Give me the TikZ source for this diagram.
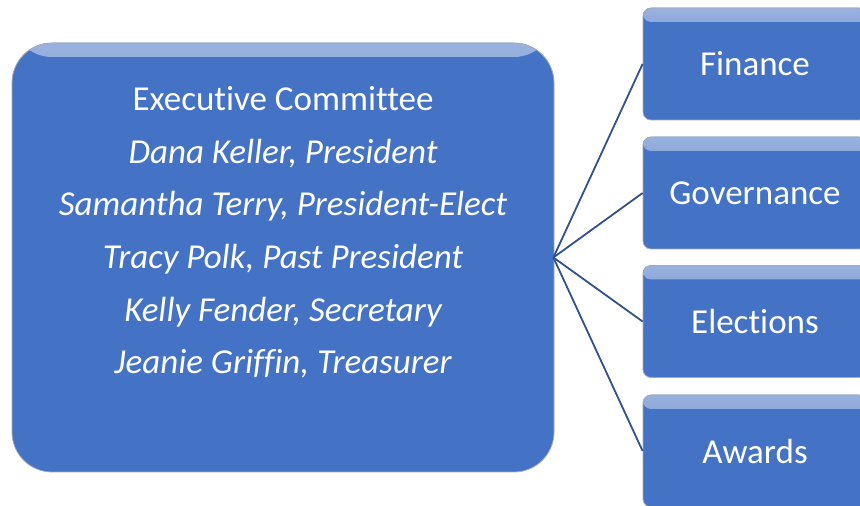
\documentclass[tikz,border=0pt]{standalone}
\usepackage{fontspec}
\setmainfont[Ligatures=NoCommon]{Carlito}
\definecolor{boxblue}{HTML}{4472C4}
\definecolor{linkblue}{HTML}{2F528F}
\definecolor{edgegray}{HTML}{A5A9B8}
\tikzset{
  gloss/.style={
    path picture={
      \fill[top color=white!45!boxblue, bottom color=boxblue]
        (path picture bounding box.north west) rectangle
        ([yshift=-14pt]path picture bounding box.north east);
    }},
  bigbox/.style={draw=edgegray, line width=0.8pt, fill=boxblue, gloss,
    rounded corners=40pt, minimum width=542pt, minimum height=429pt, inner sep=0pt},
  combox/.style={draw=edgegray, line width=0.8pt, fill=boxblue, gloss,
    rounded corners=8pt, minimum width=224pt, minimum height=112pt, inner sep=0pt,
    text=white, font=\fontsize{35}{40}\selectfont},
  bodytext/.style={text=white, align=center, font=\fontsize{35}{52.6}\selectfont},
  link/.style={draw=linkblue, line width=1.8pt}
}
\begin{document}
\begin{tikzpicture}[x=1pt,y=1pt]
\useasboundingbox (0,0) rectangle (860,506);
\clip (0,0) rectangle (860,506);
\node[bigbox] (exec) at (283,248.5) {};
\node[bodytext] (names) at (283,273.5) {Executive Committee\\
\itshape Dana Keller, President\\
\itshape Samantha Terry, President-Elect\\
\itshape Tracy Polk, Past President\\
\itshape Kelly Fender, Secretary\\
\itshape Jeanie Griffin, Treasurer};
\node[combox] (fin) at (755,442) {Finance};
\node[combox] (gov) at (755,313) {Governance};
\node[combox] (ele) at (755,184.5) {Elections};
\node[combox] (awa) at (755,55) {Awards};
\foreach \t in {fin,gov,ele,awa}
  \draw[link] ([xshift=-1pt]exec.east) -- (\t.west);
\end{tikzpicture}
\end{document}
